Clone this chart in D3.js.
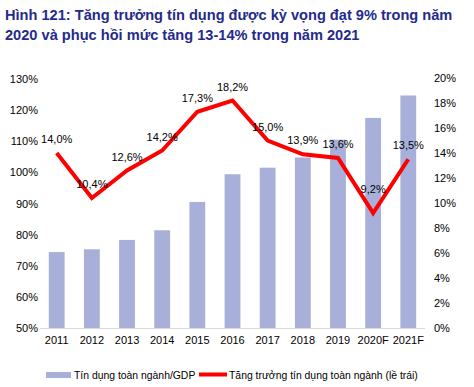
<!DOCTYPE html>
<html><head><meta charset="utf-8">
<script src="https://cdn.jsdelivr.net/npm/d3@7"></script>
<style>body{margin:0;background:#fff}svg{display:block;font-family:"Liberation Sans",Arial,sans-serif}</style>
</head><body>
<svg id="c" width="474" height="387"></svg>
<script>
const categories = ["2011","2012","2013","2014","2015","2016","2017","2018","2019","2020F","2021F"];
const creditToGDP = [74.4, 75.3, 78.3, 81.4, 90.5, 99.4, 101.5, 104.8, 110.5, 117.5, 124.7];
const creditGrowth = [14.0, 10.4, 12.6, 14.2, 17.3, 18.2, 15.0, 13.9, 13.6, 9.2, 13.5];
const leftTicks = [50,60,70,80,90,100,110,120,130];
const rightTicks = [0,2,4,6,8,10,12,14,16,18,20];
const titleLines = ["Hình 121: Tăng trưởng tín dụng được kỳ vọng đạt 9% trong năm","2020 và phục hồi mức tăng 13-14% trong năm 2021"];
const legendLabels = ["Tín dụng toàn ngành/GDP","Tăng trưởng tín dụng toàn ngành (lề trái)"];

const svg = d3.select("#c");
const m = {l:40, r:425, t:78, b:328};
const x = d3.scaleBand().domain(categories).range([m.l, m.r]).paddingInner(0.55).paddingOuter(0.25);
const yL = d3.scaleLinear().domain([50,130]).range([m.b, m.t+1]);
const yR = d3.scaleLinear().domain([0,20]).range([m.b, m.t]);
const barColor = "#A8B0D9";

svg.selectAll("text.title").data(titleLines).join("text")
  .attr("x",5).attr("y",(d,i)=>20+i*20)
  .attr("font-size",14.6).attr("font-weight","bold").attr("fill","#252A8C").text(d=>d);

svg.selectAll("rect.bar").data(creditToGDP).join("rect")
  .attr("x",(d,i)=>x(categories[i])).attr("width",x.bandwidth())
  .attr("y",d=>yL(d)).attr("height",d=>yL(50)-yL(d)).attr("fill",barColor);

svg.append("line").attr("x1",m.l).attr("x2",m.r).attr("y1",m.b+0.5).attr("y2",m.b+0.5)
  .attr("stroke","#D9D9D9").attr("stroke-width",1);

const gL = svg.append("g").attr("transform",`translate(${m.l},0)`)
  .call(d3.axisLeft(yL).tickValues(leftTicks).tickSize(0).tickPadding(2).tickFormat(d=>d+"%"));
gL.select(".domain").remove();
gL.selectAll("text").attr("font-size",11).attr("fill","#000").attr("font-family","Liberation Sans, Arial");

const gR = svg.append("g").attr("transform",`translate(${m.r+9},0)`)
  .call(d3.axisRight(yR).tickValues(rightTicks).tickSize(0).tickPadding(0).tickFormat(d=>d+"%"));
gR.select(".domain").remove();
gR.selectAll("text").attr("font-size",11).attr("fill","#000").attr("font-family","Liberation Sans, Arial");

const gX = svg.append("g").attr("transform",`translate(0,${m.b})`)
  .call(d3.axisBottom(x).tickSize(0).tickPadding(8));
gX.select(".domain").remove();
gX.selectAll("text").attr("font-size",11).attr("fill","#000").attr("font-family","Liberation Sans, Arial");

const line = d3.line().x((d,i)=>x(categories[i])+x.bandwidth()/2).y(d=>yR(d));
svg.append("path").datum(creditGrowth).attr("d",line).attr("fill","none")
  .attr("stroke","#FF0000").attr("stroke-width",4).attr("stroke-linejoin","miter");

svg.selectAll("text.lbl").data(creditGrowth).join("text")
  .attr("x",(d,i)=>x(categories[i])+x.bandwidth()/2)
  .attr("y",(d,i)=>yR(d)-(d<10?20:10))
  .attr("text-anchor","middle").attr("font-size",11).attr("fill","#000")
  .text(d=>d.toFixed(1).replace(".",",")+"%");

const lg = svg.append("g");
lg.append("rect").attr("x",46).attr("y",372).attr("width",25).attr("height",6).attr("fill",barColor);
lg.append("text").attr("x",74).attr("y",379).attr("font-size",10.4).attr("fill","#000").text(legendLabels[0]);
lg.append("line").attr("x1",199).attr("x2",227).attr("y1",374.5).attr("y2",374.5).attr("stroke","#FF0000").attr("stroke-width",4);
lg.append("text").attr("x",229).attr("y",379).attr("font-size",10.4).attr("fill","#000").text(legendLabels[1]);
</script>
</body></html>
